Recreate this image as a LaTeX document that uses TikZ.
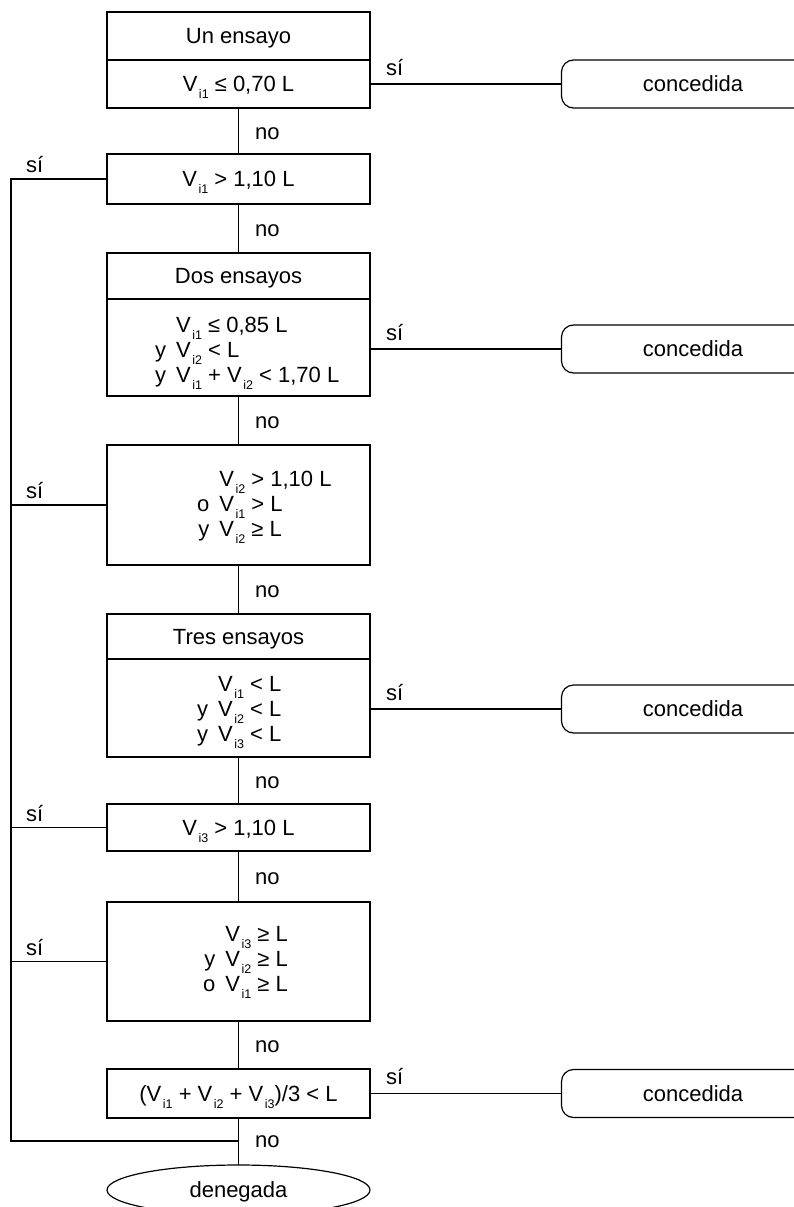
\documentclass[tikz,border=0pt]{standalone}
\usepackage{fontspec}
\setmainfont{Liberation Sans}
\usetikzlibrary{shapes.geometric}

\newcommand{\Vsub}[1]{V\hspace{1.5pt}\raisebox{-7pt}[0pt][0pt]{\fontsize{12.5}{12.5}\selectfont i#1}}
\newcommand{\condlines}[1]{\begin{tabular}{@{}r@{\hspace{10pt}}l@{}}#1\end{tabular}}

\begin{document}
\begin{tikzpicture}[x=1pt,y=1pt,yscale=-1,
	every node/.style={font=\fontsize{22}{25}\selectfont},
	lin/.style={line width=1.2pt},
	box/.style={draw, lin, minimum width=263pt, inner sep=0pt, outer sep=0pt, text height=15.5pt, text depth=0pt},
	okbox/.style={box, rounded corners=12pt, minimum width=254pt, minimum height=48pt},
	lbl/.style={inner sep=0pt}]
	\useasboundingbox (0,0) rectangle (794,1207);
	\clip (0,0) rectangle (794,1207);

	% boxes
	\node[box, minimum height=48pt] (tit1) at (238.5,36) {Un ensayo};
	\node[box, minimum height=48pt] (c1) at (238.5,84) {\Vsub{1} ≤ 0,70 L};
	\node[box, minimum height=50pt] (c2) at (238.5,179) {\Vsub{1} > 1,10 L};
	\node[box, minimum height=46pt] (tit2) at (238.5,276) {Dos ensayos};
	\node[box, minimum height=97pt] (c3) at (238.5,347.5) {};
	\node[box, minimum height=120pt] (c4) at (238.5,505) {};
	\node[box, minimum height=45pt] (tit3) at (238.5,636.5) {Tres ensayos};
	\node[box, minimum height=98pt] (c5) at (238.5,708) {};
	\node[box, minimum height=47pt] (c6) at (238.5,827.5) {\Vsub{3} > 1,10 L};
	\node[box, minimum height=119pt] (c7) at (238.5,961.5) {};
	\node[box, minimum height=49pt] (c8) at (238.5,1093.5) {(\Vsub{1} + \Vsub{2} + \Vsub{3})/3 < L};
	\node[box, ellipse, minimum height=50pt] (den) at (238.5,1190) {denegada};

	\node[lbl, anchor=west] (c3t) at (155,352) {\condlines{& \Vsub{1} ≤ 0,85 L\\ y & \Vsub{2} < L\\ y & \Vsub{1} + \Vsub{2} < 1,70 L}};
	\node[lbl, anchor=west] (c4t) at (197,506) {\condlines{& \Vsub{2} > 1,10 L\\ o & \Vsub{1} > L\\ y & \Vsub{2} ≥ L}};
	\node[lbl, anchor=west] (c5t) at (197,711) {\condlines{& \Vsub{1} < L\\ y & \Vsub{2} < L\\ y & \Vsub{3} < L}};
	\node[lbl, anchor=west] (c7t) at (203,961) {\condlines{& \Vsub{3} ≥ L\\ y & \Vsub{2} ≥ L\\ o & \Vsub{1} ≥ L}};

	\node[okbox, box] (ok1) at (693,84) {concedida};
	\node[okbox, box] (ok2) at (693,349) {concedida};
	\node[okbox, box] (ok3) at (693,709) {concedida};
	\node[okbox, box] (ok4) at (693,1093.5) {concedida};

	% main line
	\draw[lin] (c1) -- (c2);
	\draw[lin] (c2) -- (tit2);
	\draw[lin] (c3) -- (c4);
	\draw[lin] (c4) -- (tit3);
	\draw[lin] (c5) -- (c6);
	\draw[lin] (c6) -- (c7);
	\draw[lin] (c7) -- (c8);
	\draw[lin] (c8) -- (den);

	% si to the right
	\draw[lin] (c1.east) -- (ok1.west);
	\draw[lin] (ok2.west -| c3.east) -- (ok2.west);
	\draw[lin] (ok3.west -| c5.east) -- (ok3.west);
	\draw[lin] (c8.east) -- (ok4.west);

	% si to the left
	\coordinate (lt) at (11,179);
	\coordinate (lb) at (11,1141);
	\draw[lin] (c2.west) -- (lt) -- (lb) -- (lb -| den.north);
	\draw[lin] (c4.west) -- (c4.west -| lt);
	\draw[lin] (c6.west) -- (c6.west -| lt);
	\draw[lin] (c7.west) -- (c7.west -| lt);

	\foreach \y in {172,498,821,955}
		\node[lbl, anchor=base west] at (26,\y) {sí};
	\foreach \y in {75,340,700,1084}
		\node[lbl, anchor=base west] at (386,\y) {sí};
	\foreach \y in {133.5,230.5,422.5,591.5,782.5,878.5,1047,1142}
		\node[lbl, anchor=west] at (255,\y) {no};
\end{tikzpicture}
\end{document}
